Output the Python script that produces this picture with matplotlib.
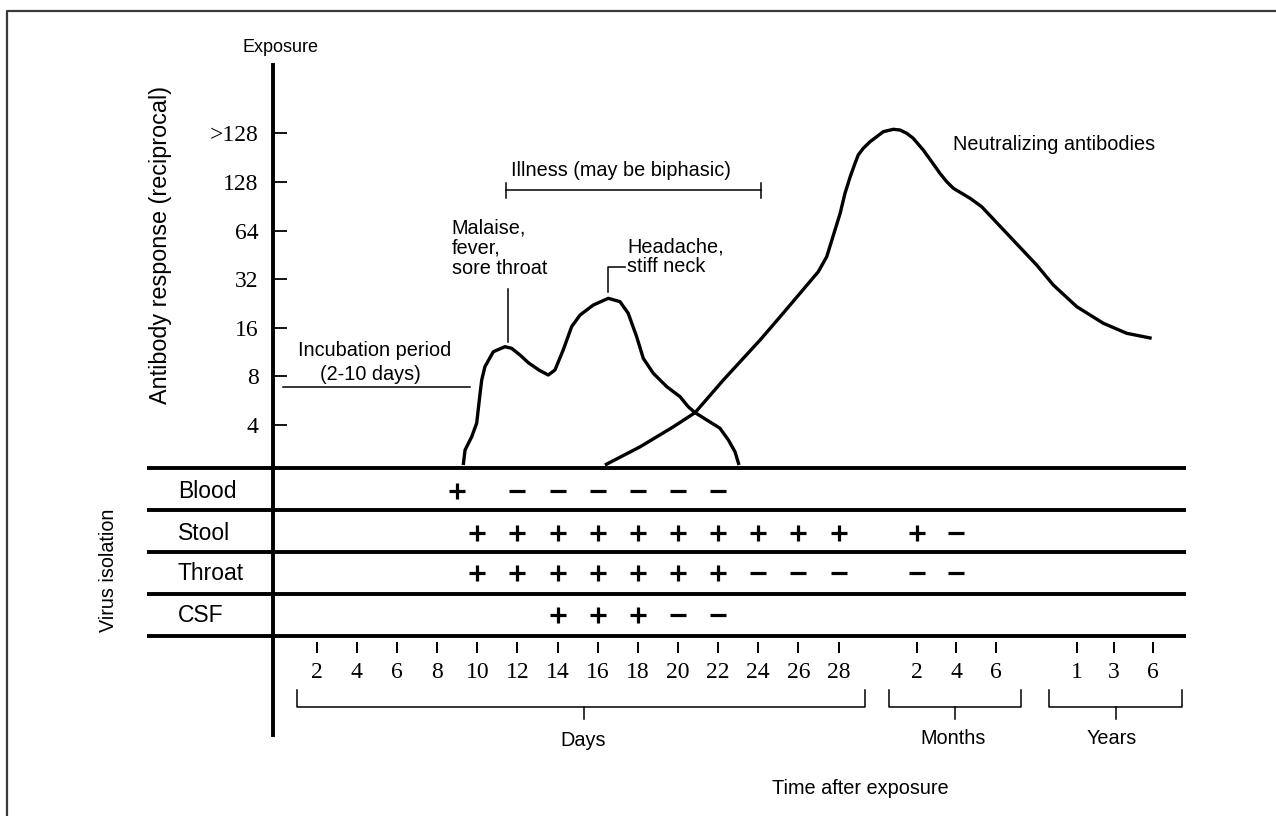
import matplotlib
matplotlib.use("Agg")
import matplotlib.pyplot as plt
from matplotlib.ticker import NullLocator

plt.rcParams['font.family'] = ['Liberation Sans', 'DejaVu Sans']
SERIF = ['Liberation Serif', 'DejaVu Serif']

# ---- data ----
# y axis: reciprocal antibody titre (log2 scale)
titer_ticks = [4, 8, 16, 32, 64, 128, 256]
titer_labels = ['4', '8', '16', '32', '64', '128', '>128']

# time axis labels
day_ticks = [2, 4, 6, 8, 10, 12, 14, 16, 18, 20, 22, 24, 26, 28]
month_ticks = [2, 4, 6]
year_ticks = [1, 3, 6]

# clinical course curve (x = position on time axis, y = titre)
illness_x = [9.30, 9.39, 9.72, 9.97, 10.14, 10.22, 10.38, 10.80, 11.38, 11.71,
             12.13, 12.54, 13.12, 13.54, 13.87, 14.28, 14.70, 15.12, 15.78, 16.53,
             17.11, 17.52, 17.94, 18.27, 18.77, 19.44, 20.10, 20.51, 20.85, 21.43,
             22.09, 22.51, 22.84, 23.04]
illness_y = [2.26, 2.80, 3.38, 4.11, 6.31, 7.60, 9.19, 11.38, 12.22, 11.94,
             10.85, 9.73, 8.68, 8.16, 8.77, 11.66, 16.26, 19.20, 22.14, 24.37,
             23.22, 19.67, 14.09, 10.35, 8.36, 6.91, 5.99, 5.19, 4.77, 4.30,
             3.82, 3.23, 2.73, 2.26]

# neutralizing antibody curve
neut_x = [16.36, 18.11, 19.77, 20.85, 22.26, 24.09, 25.09, 26.08, 26.99, 27.41,
          28.08, 28.32, 28.58, 28.82, 28.98, 29.23, 29.57, 29.90, 30.23, 30.73,
          31.06, 31.40, 31.72, 32.22, 32.64, 33.05, 33.39, 33.72, 34.55, 35.13,
          36.54, 37.87, 38.70, 39.87, 41.19, 42.36, 43.60]
neut_y = [2.26, 2.93, 3.90, 4.77, 7.60, 13.44, 18.74, 26.17, 35.61, 44.11,
          81.91, 108.9, 138.0, 167.1, 188.2, 206.9, 227.4, 244.2, 262.4, 271.4,
          268.7, 256.4, 238.7, 202.0, 171.0, 144.9, 128.5, 117.0, 101.5, 90.0,
          58.65, 39.18, 29.47, 21.62, 17.07, 14.79, 13.78]

# virus isolation results
specimens = ['Blood', 'Stool', 'Throat', 'CSF']
blood_days = [9, 12, 14, 16, 18, 20, 22]
blood_sign = ['+', '-', '-', '-', '-', '-', '-']
stool_days = [10, 12, 14, 16, 18, 20, 22, 24, 26, 28]
stool_sign = ['+', '+', '+', '+', '+', '+', '+', '+', '+', '+']
stool_months = [2, 4]
stool_month_sign = ['+', '-']
throat_days = [10, 12, 14, 16, 18, 20, 22, 24, 26, 28]
throat_sign = ['+', '+', '+', '+', '+', '+', '+', '-', '-', '-']
throat_months = [2, 4]
throat_month_sign = ['-', '-']
csf_days = [14, 16, 18, 20, 22]
csf_sign = ['+', '+', '+', '-', '-']

# ---- layout ----
W, H = 1276, 816
X0_PX, DX_PX = 276.6, 20.07     # pixel of day 0, pixels per day
Y4_PX, DY_PX = 425.0, 48.6      # pixel of titre 4, pixels per doubling
MONTH0, MONTH_STEP = 31.89, 0.985
year_pos = [39.87, 41.72, 43.65]
row_lines = [468, 510, 552, 594, 636]
row_mid = [491, 533, 573, 615]


def slot(xp):
    return (xp - X0_PX) / DX_PX


def titer(yp):
    return 2 ** (2 + (Y4_PX - yp) / DY_PX)


def month_pos(m):
    return MONTH0 + (m - 2) * MONTH_STEP


fig = plt.figure(figsize=(W / 100, H / 100), dpi=100)

# curves axes
ax = fig.add_axes([0, 0, 1, 1])
ax.patch.set_visible(False)
ax.set_yscale('log', base=2)
ax.set_xlim(slot(0), slot(W))
ax.set_ylim(titer(H), titer(0))
for s in ['top', 'right', 'bottom']:
    ax.spines[s].set_visible(False)
ax.spines['left'].set_position(('data', slot(273.3)))
ax.spines['left'].set_bounds(titer(735), titer(65))
ax.spines['left'].set_linewidth(2.8)
ax.set_xticks([])
ax.set_yticks(titer_ticks, labels=titer_labels)
ax.yaxis.set_minor_locator(NullLocator())
ax.tick_params(axis='y', direction='in', length=9.8, width=1.3, pad=10.5,
               labelsize=17)
for lbl in ax.get_yticklabels():
    lbl.set_fontfamily(SERIF)

ax.plot(illness_x, illness_y, color='black', lw=2.4, solid_joinstyle='round',
        solid_capstyle='butt')
ax.plot(neut_x, neut_y, color='black', lw=2.4, solid_joinstyle='round',
        solid_capstyle='butt')

# table axes: x = time position, y = pixels
tab = fig.add_axes([0, 0, 1, 1])
tab.set_xlim(ax.get_xlim())
tab.set_ylim(H, 0)
tab.axis('off')

# layout axes: pure pixels
lay = fig.add_axes([0, 0, 1, 1])
lay.set_xlim(0, W)
lay.set_ylim(H, 0)
lay.axis('off')

# frame
lay.plot([7, 7, W], [H, 11, 11], color='#3a3a3a', lw=1.6)

# table rows
lay.hlines(row_lines, 147, 1186, color='black', lw=2.8)
for name, y in zip(specimens, row_mid):
    lay.text(178, y, name, fontsize=16.5, ha='left', va='center')
lay.text(108, 570, 'Virus isolation', rotation=90, fontsize=14.2,
         ha='center', va='center')


def draw_signs(xs, signs, y):
    for x, s in zip(xs, signs):
        if s == '+':
            tab.plot(x, y, marker='+', ms=12, mew=2.3, color='black', ls='none')
        else:
            tab.plot(x, y, marker='_', ms=11, mew=2.3, color='black', ls='none')


draw_signs(blood_days, blood_sign, row_mid[0])
draw_signs(stool_days, stool_sign, row_mid[1])
draw_signs([month_pos(m) for m in stool_months], stool_month_sign, row_mid[1])
draw_signs(throat_days, throat_sign, row_mid[2])
draw_signs([month_pos(m) for m in throat_months], throat_month_sign, row_mid[2])
draw_signs(csf_days, csf_sign, row_mid[3])

# time axis ticks and numbers
tick_pos = day_ticks + [month_pos(m) for m in month_ticks] + year_pos
tick_lab = day_ticks + month_ticks + year_ticks
tab.vlines(tick_pos, 642, 653, color='black', lw=1.4)
for x, t in zip(tick_pos, tick_lab):
    tab.text(x, 672, str(t), fontsize=17, family=SERIF, ha='center', va='center')


def bracket(x0, x1, xc):
    lay.plot([x0, x0, x1, x1], [690, 707, 707, 690], color='black', lw=1.1)
    lay.plot([xc, xc], [707, 719], color='black', lw=1.1)


bracket(297, 865, 584)
bracket(889, 1021, 955)
bracket(1049, 1182, 1116)
lay.text(583, 741, 'Days', fontsize=14.3, ha='center', va='center')
lay.text(953, 738, 'Months', fontsize=14.3, ha='center', va='center')
lay.text(1112, 738, 'Years', fontsize=14.3, ha='center', va='center')
lay.text(860, 789, 'Time after exposure', fontsize=14.3, ha='center', va='center')

# upper annotations
lay.text(280, 48, 'Exposure', fontsize=13, ha='center', va='center')
lay.text(160, 245, 'Antibody response (reciprocal)', rotation=90, fontsize=16.8,
         ha='center', va='center')

lay.text(375, 350, 'Incubation period', fontsize=14.3, ha='center', va='center')
lay.text(370, 374, '(2-10 days)', fontsize=14.3, ha='center', va='center')
lay.plot([283, 470], [386.5, 386.5], color='black', lw=1.1)

lay.text(621, 170, 'Illness (may be biphasic)', fontsize=14.3, ha='center', va='center')
lay.plot([506, 761], [190, 190], color='black', lw=1.1)
lay.plot([506, 506], [183, 198], color='black', lw=1.1)
lay.plot([761, 761], [183, 198], color='black', lw=1.1)

for txt, y in zip(['Malaise,', 'fever,', 'sore throat'], [228, 248, 268]):
    lay.text(451.5, y, txt, fontsize=14.3, ha='left', va='center')
lay.plot([507.5, 507.5], [289, 342], color='black', lw=1.1)

for txt, y in zip(['Headache,', 'stiff neck'], [247, 267]):
    lay.text(627, y, txt, fontsize=14.3, ha='left', va='center')
lay.plot([625, 608.3, 608.3], [267, 267, 292], color='black', lw=1.1)

lay.text(953, 145, 'Neutralizing antibodies', fontsize=14.3, ha='left', va='center')

fig.savefig('out.png', dpi=100, facecolor='white')
